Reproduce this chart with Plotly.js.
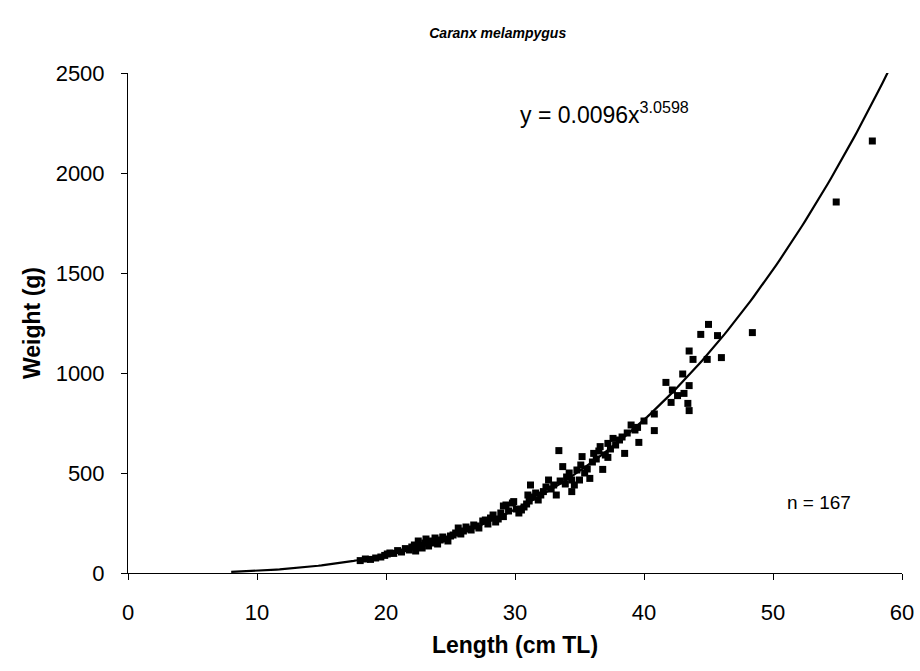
<!DOCTYPE html>
<html>
<head>
<meta charset="utf-8">
<script src="https://cdn.plot.ly/plotly-3.0.1.min.js"></script>
<style>html,body{margin:0;padding:0;background:#fff;}#chart{width:920px;height:671px;}</style>
</head>
<body>
<div id="chart"></div>
<script>
const lengthCm = [18.0,18.4,18.8,19.2,19.6,19.9,20.1,20.3,20.6,20.9,21.2,21.5,21.8,22.0,22.2,22.3,22.5,22.6,22.8,23.0,23.1,23.3,23.5,23.6,23.8,24.0,24.2,24.4,24.6,24.8,25.0,25.2,25.4,25.6,25.8,26.0,26.2,26.4,26.6,26.8,27.0,27.2,27.5,27.7,27.9,28.1,28.3,28.5,28.7,28.9,29.1,29.1,29.3,29.5,29.8,29.9,30.1,30.3,30.5,30.7,30.9,31.0,31.1,31.2,31.4,31.6,31.8,32.0,32.2,32.4,32.6,32.8,33.0,33.2,33.4,33.5,33.7,33.9,34.0,34.2,34.4,34.4,34.6,34.8,35.0,35.1,35.2,35.4,35.6,35.8,36.0,36.1,36.3,36.5,36.6,36.8,37.0,37.2,37.2,37.4,37.6,37.8,38.1,38.3,38.5,38.7,39.0,39.3,39.5,39.6,40.0,40.8,40.8,41.7,42.1,42.2,42.6,43.0,43.1,43.4,43.5,43.5,43.5,43.8,44.4,44.9,45.0,45.7,46.0,48.4,54.9,57.7];
const weightG = [62,70,68,75,80,88,95,100,98,112,105,122,115,130,140,110,160,138,125,150,170,135,160,150,175,145,165,180,170,160,185,190,200,225,195,210,230,220,215,240,235,225,260,265,245,275,290,255,270,300,282,335,340,310,350,357,320,300,315,330,345,390,360,440,380,400,365,390,407,430,465,420,440,390,612,460,532,445,480,500,465,407,440,515,465,540,582,500,520,473,555,598,570,610,632,518,590,648,578,620,673,640,665,680,598,700,740,715,728,653,760,795,712,953,853,915,887,995,898,848,1110,937,812,1068,1193,1068,1243,1187,1077,1202,1855,2160];

const fitA = 0.0096;
const fitB = 3.0598;
const fitStart = 8;
const fitEnd = 59.5;
const fitX = [], fitY = [];
for (let L = fitStart; L <= fitEnd + 1e-9; L += 0.25) { fitX.push(L); fitY.push(fitA * Math.pow(L, fitB)); }

const xTicks = [0,10,20,30,40,50,60];
const yTicks = [0,500,1000,1500,2000,2500];

const font = 'Liberation Sans, Arial, sans-serif';
Plotly.newPlot('chart', [
  {x: fitX, y: fitY, mode: 'lines', line: {color: '#000', width: 2.2}, hoverinfo: 'skip'},
  {x: lengthCm, y: weightG, mode: 'markers', marker: {symbol: 'square', size: 7, color: '#000'}}
], {
  width: 920, height: 671,
  margin: {l: 128, r: 18, t: 73, b: 98},
  paper_bgcolor: '#fff', plot_bgcolor: '#fff',
  showlegend: false,
  font: {family: font, color: '#000', size: 22},
  title: {text: '<b><i>Caranx melampygus</i></b>', font: {family: font, size: 14, color: '#000'}, x: 0.541, xanchor: 'center', y: 0.951, yanchor: 'middle'},
  xaxis: {
    range: [0, 60], tickvals: xTicks, ticktext: xTicks.map(String),
    showline: true, linecolor: '#000', linewidth: 1, ticks: 'outside', ticklen: 6, tickcolor: '#000',
    showgrid: false, zeroline: false, tickfont: {size: 22}, ticklabelstandoff: 14,
    title: {text: '<b>Length (cm TL)</b>', font: {size: 23}, standoff: 12}
  },
  yaxis: {
    range: [0, 2500], tickvals: yTicks, ticktext: yTicks.map(String),
    showline: true, linecolor: '#000', linewidth: 1, ticks: 'outside', ticklen: 6, tickcolor: '#000',
    showgrid: false, zeroline: false, tickfont: {size: 22}, ticklabelstandoff: 12,
    title: {text: '<b>Weight (g)</b>', font: {size: 23}, standoff: 8}
  },
  annotations: [
    {x: 30.2, y: 2300, xref: 'x', yref: 'y', xanchor: 'left', yanchor: 'middle', showarrow: false, text: 'y = 0.0096x<sup>3.0598</sup>', font: {size: 23}},
    {x: 50.9, y: 355, xref: 'x', yref: 'y', xanchor: 'left', yanchor: 'middle', showarrow: false, text: 'n = 167', font: {size: 19}}
  ]
}, {displayModeBar: false, staticPlot: true});
</script>
</body>
</html>
